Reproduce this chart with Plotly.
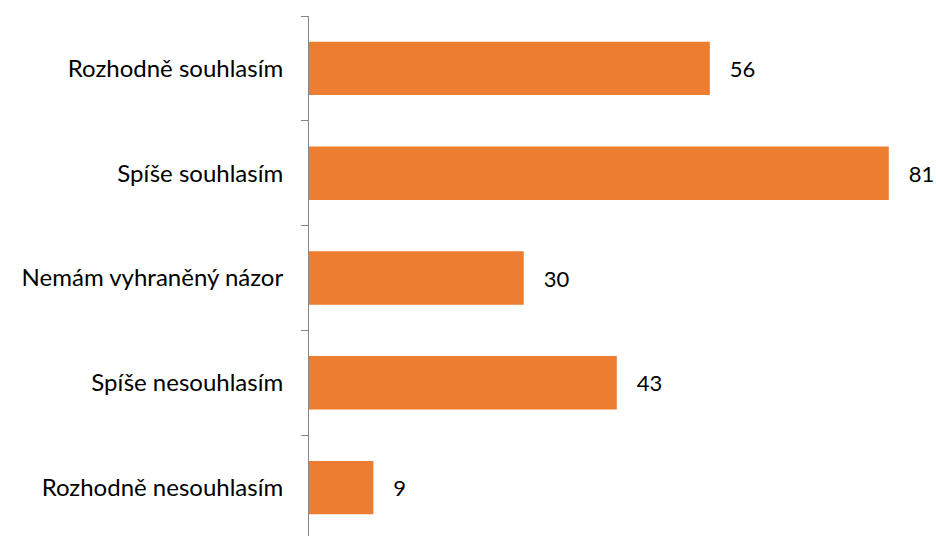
import plotly.graph_objects as go

categories = ["Rozhodně souhlasím", "Spíše souhlasím", "Nemám vyhraněný názor",
              "Spíše nesouhlasím", "Rozhodně nesouhlasím"]
values = [56, 81, 30, 43, 9]

fig = go.Figure(go.Bar(
    y=categories, x=values, orientation="h",
    marker=dict(color="#ED7D31", line=dict(width=0)),
    text=values, texttemplate="   %{x}", textposition="outside",
    textfont=dict(size=22, color="#000000"),
    constraintext="none", cliponaxis=False,
))

fig.update_layout(
    width=936, height=540,
    margin=dict(l=309, r=20, t=16, b=0),
    paper_bgcolor="white", plot_bgcolor="white",
    font=dict(family="Lato", size=24, color="#000000"),
    bargap=0.49,
    showlegend=False,
    xaxis=dict(range=[0, 84.8], visible=False),
    yaxis=dict(
        autorange="reversed", type="category",
        showline=True, linecolor="#868686", linewidth=1,
        ticks="outside", ticklen=7, tickcolor="#868686",
        tickson="boundaries", ticklabelstandoff=20,
        showgrid=False, zeroline=False,
    ),
)

fig.write_html(
    "out.html",
    config={"displayModeBar": False},
    post_script="document.body.style.margin='0';document.body.style.overflow='hidden';",
)
